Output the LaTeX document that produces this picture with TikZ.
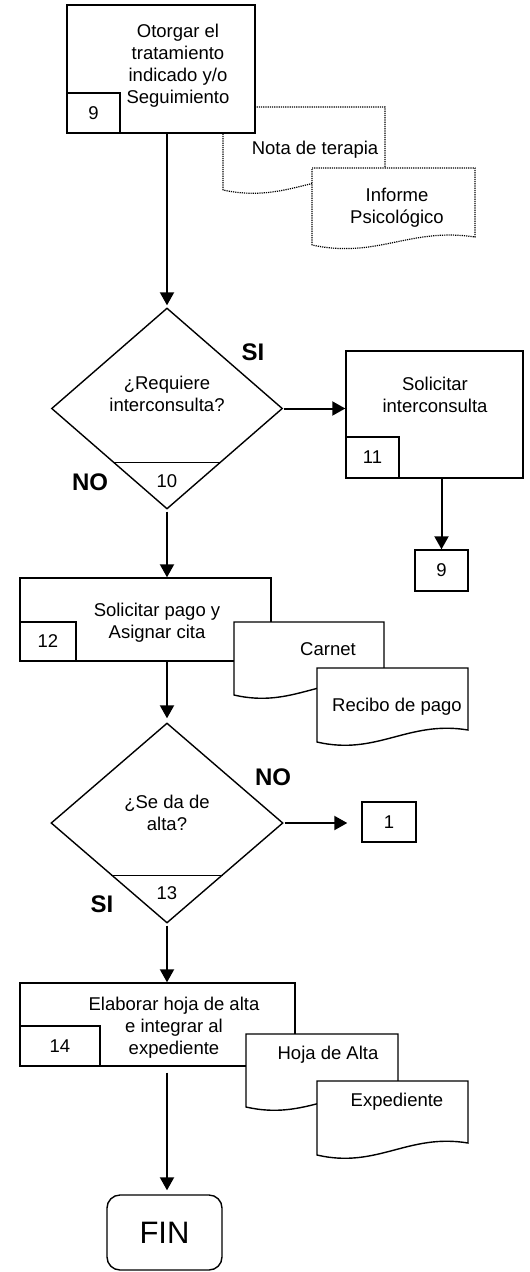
\documentclass[tikz,border=0pt]{standalone}
\usepackage{fontspec}
\setmainfont{Liberation Sans}
\usetikzlibrary{shapes.geometric,arrows.meta,calc}
\begin{document}
\begin{tikzpicture}[x=1pt,y=-1pt,
  every node/.style={font=\fontsize{18.5}{22}\selectfont},
  box/.style={draw,line width=1.4pt,fill=white,inner sep=0pt},
  dec/.style={draw,diamond,line width=1.4pt,inner sep=0pt},
  txt/.style={align=center,inner sep=0pt},
  yesno/.style={font=\fontsize{24}{28}\selectfont\bfseries,inner sep=0pt},
  arr/.style={line width=2pt,-{Triangle[length=13pt,width=14pt]}},
  doc/.style={draw,line width=1.4pt,fill=white},
  dotdoc/.style={draw,line width=1.2pt,densely dotted,fill=white}]
\useasboundingbox (0,0) rectangle (530,1272);

% --- documents of step 9 (dotted)
\path[dotdoc] (223,190) -- (223,107) -- (385,107) -- (385,178) .. controls (320,168) and (288,204) .. (223,190) -- cycle;
\path[dotdoc] (312,245) -- (312,168) -- (475,168) -- (475,237) .. controls (410,227) and (377,259) .. (312,245) -- cycle;
\node[txt] (nota) at (315,150) {Nota de terapia};
\node[txt] (informe) at (397,208) {Informe\\Psicológico};

% --- step 9
\node[box,minimum width=188pt,minimum height=128pt] (p9) at (161,69) {};
\node[box,minimum width=53pt,minimum height=40pt] (n9) at (93.5,113) {9};
\node[txt] (t9) at (178,66) {Otorgar el\\tratamiento\\indicado y/o\\Seguimiento};

% --- decision 10
\node[dec,minimum width=231pt,minimum height=201pt] (d10) at (167,408.5) {};
\draw[line width=1.4pt] ($(d10.south)!0.4677!(d10.west)$) -- ($(d10.south)!0.4677!(d10.east)$);
\node[txt] (td10) at (167,394) {¿Requiere\\interconsulta?};
\node[txt] (n10) at (167,481) {10};
\node[yesno] (si10) at (253,352) {SI};
\node[yesno] (no10) at (90,482) {NO};

% --- step 11
\node[box,minimum width=177pt,minimum height=127pt] (p11) at (434.5,414.5) {};
\node[box,minimum width=53pt,minimum height=41pt] (n11) at (372.5,457.5) {11};
\node[txt] (t11) at (435,395) {Solicitar\\interconsulta};
\node[box,minimum width=53pt,minimum height=41pt] (g9) at (441.5,570.5) {9};

% --- step 12
\node[box,minimum width=251pt,minimum height=83pt] (p12) at (145.5,619.5) {};
\node[box,minimum width=56pt,minimum height=39pt] (n12) at (48,641.5) {12};
\node[txt] (t12) at (157,623) {Solicitar pago y\\Asignar cita};
\path[doc] (234,695) -- (234,622) -- (384,622) -- (384,683) .. controls (324,673) and (294,709) .. (234,695) -- cycle;
\node[txt] (carnet) at (328,649) {Carnet};
\path[doc] (317,742) -- (317,668) -- (468,668) -- (468,730) .. controls (408,720) and (377,756) .. (317,742) -- cycle;
\node[txt] (recibo) at (397,707) {Recibo de pago};

% --- decision 13
\node[dec,minimum width=232pt,minimum height=200pt] (d13) at (167,823) {};
\draw[line width=1.4pt] ($(d13.south)!0.48!(d13.west)$) -- ($(d13.south)!0.48!(d13.east)$);
\node[txt] (td13) at (167,813) {¿Se da de\\alta?};
\node[txt] (n13) at (167,893) {13};
\node[yesno] (no13) at (273,777) {NO};
\node[yesno] (si13) at (102,904) {SI};
\node[box,minimum width=54pt,minimum height=40pt] (g1) at (389,822) {1};

% --- step 14
\node[box,minimum width=275pt,minimum height=83pt] (p14) at (157.5,1024.5) {};
\node[box,minimum width=80pt,minimum height=40pt] (n14) at (60,1046) {14};
\node[txt] (t14) at (174,1028) {Elaborar hoja de alta\\e integrar al\\expediente};
\path[doc] (246,1107) -- (246,1034) -- (398,1034) -- (398,1095) .. controls (337,1085) and (307,1121) .. (246,1107) -- cycle;
\node[txt] (hoja) at (328,1055) {Hoja de Alta};
\path[doc] (317,1155) -- (317,1081) -- (468,1081) -- (468,1143) .. controls (408,1133) and (377,1169) .. (317,1155) -- cycle;
\node[txt] (exped) at (397,1102) {Expediente};

% --- end
\node[draw,line width=1.4pt,rounded corners=13pt,minimum width=115pt,minimum height=75pt,inner sep=0pt,font=\fontsize{31}{36}\selectfont] (fin) at (164.5,1232.5) {FIN};

% --- connectors
\draw[arr,shorten >=2pt] (d10.north |- p9.south) -- (d10.north);
\draw[arr,shorten <=1pt] (d10.east) -- (p11.west |- d10.east);
\draw[arr] (g9.north |- p11.south) -- (g9.north);
\draw[arr,shorten <=2pt] (d10.south) -- (d10.south |- p12.north);
\draw[arr,shorten >=4pt] (d13.north |- p12.south) -- (d13.north);
\draw[arr,shorten <=1pt,shorten >=14pt] (d13.east) -- (g1.west |- d13.east);
\draw[arr,shorten <=2pt] (d13.south) -- (d13.south |- p14.north);
\draw[arr,shorten <=6pt,shorten >=4pt] (d13.south |- p14.south) -- (d13.south |- fin.north);
\end{tikzpicture}
\end{document}
